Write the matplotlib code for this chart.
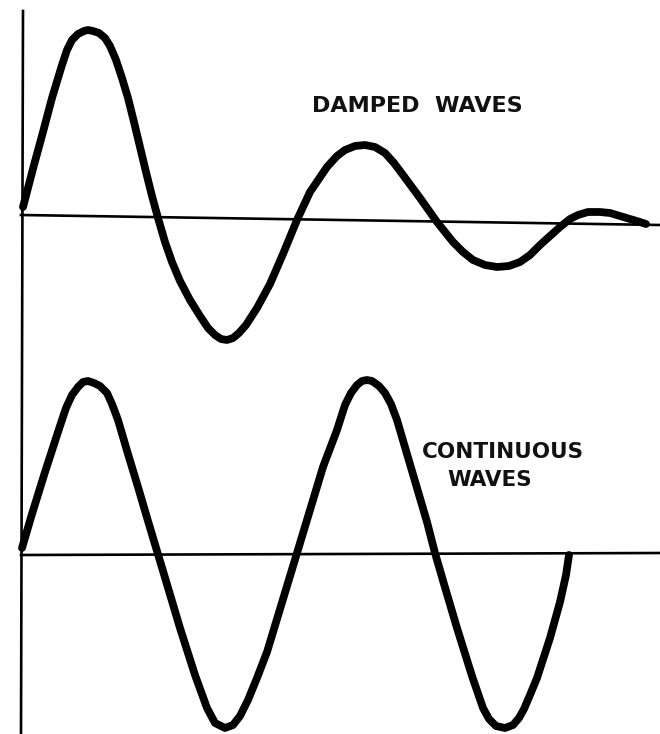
import numpy as np
import matplotlib.pyplot as plt

# points (pixel coords, y grows downward)
damped_x = [23, 34, 43, 52, 62, 67, 72, 78, 84, 88, 93, 99, 105, 110, 116,
            122, 128, 134, 140, 146, 152, 158, 165, 172, 180, 190, 200, 208,
            215, 221, 227, 233, 239, 246, 257, 270, 283, 297, 310, 327, 337,
            345, 355, 365, 375, 385, 394, 403, 420, 437, 453, 463, 473, 485,
            497, 509, 520, 530, 540, 550, 560, 570, 578, 588, 600, 610, 620,
            630, 640, 646]
damped_y = [207, 165, 132, 98, 65, 50, 40, 34, 31, 30, 31, 33, 38, 46, 60,
            78, 98, 122, 147, 172, 196, 218, 242, 262, 281, 300, 316, 328,
            335, 339, 340, 338, 333, 325, 308, 284, 254, 220, 192, 167, 156,
            150, 146, 145, 147, 153, 163, 175, 198, 222, 242, 252, 260, 265,
            267, 266, 262, 255, 245, 236, 227, 219, 215, 212, 212, 213, 216,
            219, 222, 224]

cont_x = [22, 32, 45, 58, 66, 72, 78, 83, 88, 94, 100, 107, 112, 118, 128,
          138, 148, 157, 166, 180, 195, 207, 215, 225, 233, 240, 248, 257,
          267, 277, 287, 297, 310, 323, 337, 345, 351, 357, 362, 367, 372,
          379, 385, 391, 397, 407, 417, 427, 435, 444, 457, 472, 483, 489,
          496, 505, 513, 519, 524, 530, 537, 550, 560, 566, 569]
cont_y = [548, 514, 472, 432, 408, 395, 387, 382, 381, 383, 386, 393, 404,
          420, 454, 487, 521, 551, 581, 628, 675, 708, 723, 728, 725, 716,
          700, 678, 652, 619, 586, 553, 510, 467, 430, 405, 393, 385, 381,
          380, 381, 386, 393, 404, 420, 454, 488, 522, 553, 584, 628, 676,
          708, 719, 726, 728, 725, 718, 709, 695, 678, 638, 602, 575, 555]

fig = plt.figure(figsize=(6.6, 7.34), dpi=100)
ax = fig.add_axes([0, 0, 1, 1])
ax.set_xlim(0, 660)
ax.set_ylim(734, 0)
ax.axis('off')

# axes of the drawing
ax.plot([23, 21], [11, 734], color='black', lw=1.9)
ax.plot([21, 660], [215, 225], color='black', lw=1.9)
ax.plot([21, 660], [555, 553], color='black', lw=1.9)

ax.plot(damped_x, damped_y, color='black', lw=5.6,
        solid_joinstyle='round', solid_capstyle='round')
ax.plot(cont_x, cont_y, color='black', lw=5.6,
        solid_joinstyle='round', solid_capstyle='round')

ax.text(417, 106, 'DAMPED  WAVES', fontsize=16, fontweight='bold',
        ha='center', va='center', color='#111111')
ax.text(503, 452, 'CONTINUOUS', fontsize=15.5, fontweight='bold',
        ha='center', va='center', color='#111111')
ax.text(490, 480, 'WAVES', fontsize=15.5, fontweight='bold',
        ha='center', va='center', color='#111111')

fig.savefig('out.png', dpi=100, facecolor='white')
